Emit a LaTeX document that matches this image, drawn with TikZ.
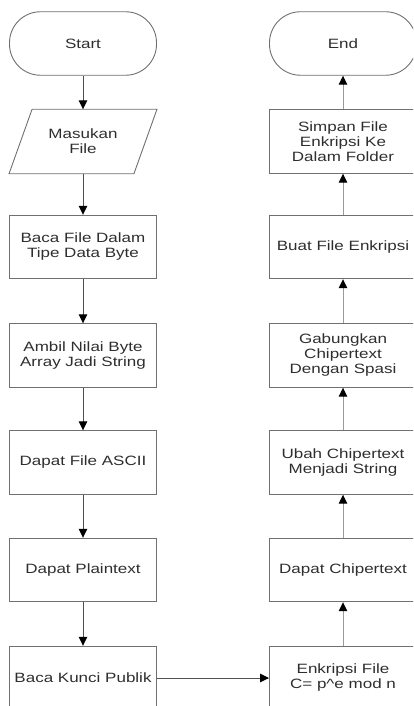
\documentclass[tikz,border=0pt]{standalone}
\usepackage{fontspec}
\setmainfont{Liberation Sans}[FakeStretch=1.26]
\usetikzlibrary{arrows.meta}
\definecolor{txt}{HTML}{2E2E2E}
\definecolor{edge}{HTML}{707070}
\definecolor{larrow}{HTML}{505050}
\definecolor{rarrow}{HTML}{9A9A9A}
\begin{document}
\begin{tikzpicture}[x=1pt,y=-1pt,
  box/.style={draw=edge, line width=0.9pt, minimum width=147pt, minimum height=63.5pt,
    inner sep=0pt, align=center, text=txt, font=\fontsize{13.5}{15}\selectfont},
  term/.style={box, rounded corners=31pt},
  ghost/.style={box, draw=none},
  tip/.style={-{Triangle[length=9pt,width=8.5pt,color=black]}},
  larr/.style={tip, draw=larrow, line width=1pt},
  rarr/.style={tip, draw=rarrow, line width=1pt}]
\useasboundingbox (0,0) rectangle (413,706);
\clip (0,0) rectangle (413,706);
% left column
\node[term] (start) at (83,43.5) {Start};
\node[ghost] (in) at (83,141.5) {Masukan\\File};
\draw[edge, line width=0.9pt] ([xshift=23pt]in.north west) -- (in.north east)
  -- ([xshift=-23pt]in.south east) -- (in.south west) -- cycle;
\node[box] (baca) at (83,247) {Baca File Dalam\\Tipe Data Byte};
\node[box] (ambil) at (83,355.5) {Ambil Nilai Byte\\Array Jadi String};
\node[box] (ascii) at (83,462.5) {Dapat File ASCII};
\node[box] (plain) at (83,570) {Dapat Plaintext};
\node[box] (kunci) at (83,678) {Baca Kunci Publik};
% right column
\node[term] (end) at (343,43.5) {End};
\node[box] (simpan) at (343,141.5) {Simpan File\\Enkripsi Ke\\Dalam Folder};
\node[box] (buat) at (343,247) {Buat File Enkripsi};
\node[box] (gab) at (343,355.5) {Gabungkan\\Chipertext\\Dengan Spasi};
\node[box] (ubah) at (343,462.5) {Ubah Chipertext\\Menjadi String};
\node[box] (cipher) at (343,570) {Dapat Chipertext};
\node[box] (enk) at (343,678) {Enkripsi File\\C= p\^{}e mod n};
% connectors
\draw[larr] (start) -- (in);
\draw[larr] (in) -- (baca);
\draw[larr] (baca) -- (ambil);
\draw[larr] (ambil) -- (ascii);
\draw[larr] (ascii) -- (plain);
\draw[larr] (plain) -- (kunci);
\draw[larr] (kunci.east) -- (enk.west);
\draw[rarr] (enk) -- (cipher);
\draw[rarr] (cipher) -- (ubah);
\draw[rarr] (ubah) -- (gab);
\draw[rarr] (gab) -- (buat);
\draw[rarr] (buat) -- (simpan);
\draw[rarr] (simpan) -- (end);
\end{tikzpicture}
\end{document}
